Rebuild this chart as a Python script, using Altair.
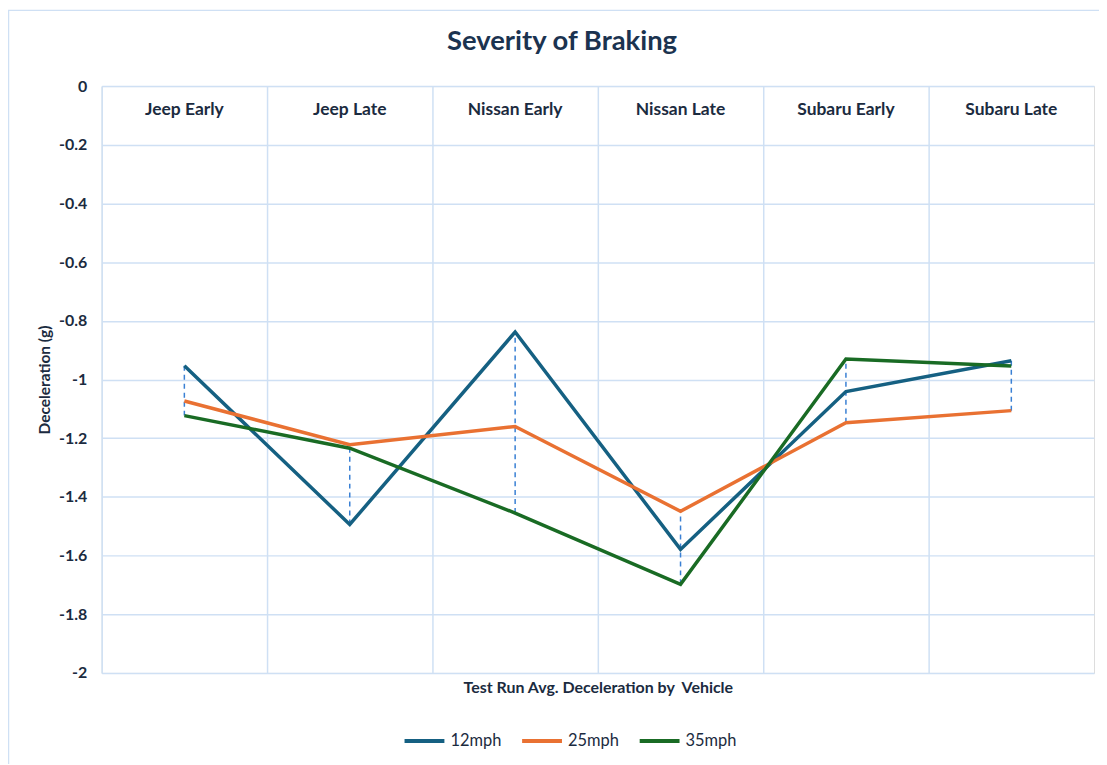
import altair as alt
import pandas as pd

categories = ["Jeep Early", "Jeep Late", "Nissan Early", "Nissan Late", "Subaru Early", "Subaru Late"]
series_names = ["12mph", "25mph", "35mph"]
v12 = [-0.953, -1.494, -0.838, -1.579, -1.041, -0.936]
v25 = [-1.073, -1.222, -1.160, -1.449, -1.147, -1.106]
v35 = [-1.123, -1.234, -1.455, -1.698, -0.930, -0.954]
colors = ["#156082", "#E97132", "#196B24"]
y_ticks = [0, -0.2, -0.4, -0.6, -0.8, -1, -1.2, -1.4, -1.6, -1.8, -2]

rows = []
for name, vals in zip(series_names, [v12, v25, v35]):
    for c, v in zip(categories, vals):
        rows.append({"Vehicle": c, "Series": name, "Value": v})
df = pd.DataFrame(rows)

FONT = "Lato"
TXT = "#1B2B40"
GRID = "#CFE0F4"

x_top = alt.X(
    "Vehicle:N",
    sort=categories,
    scale=alt.Scale(type="band", domain=categories, paddingInner=0, paddingOuter=0),
    axis=alt.Axis(
        orient="top", title=None, labelAngle=0, ticks=False, tickSize=0, domain=False,
        grid=True, gridColor=GRID, gridWidth=1.5, bandPosition=0,
        labelPadding=-24, labelBaseline="middle", labelFont=FONT, labelFontSize=17.5,
        labelFontWeight="bold", labelColor=TXT,
    ),
)
x_bottom = alt.X(
    "Vehicle:N",
    sort=categories,
    scale=alt.Scale(type="band", domain=categories, paddingInner=0, paddingOuter=0),
    axis=alt.Axis(
        orient="bottom", title="Test Run Avg. Deceleration by\u00a0 Vehicle", labels=False,
        ticks=False, domain=False, grid=False, titleFont=FONT, titleFontSize=16,
        titleFontWeight="bold", titleColor=TXT, titleX=498, titleY=15,
        titleBaseline="middle",
    ),
)
y_enc = alt.Y(
    "Value:Q",
    scale=alt.Scale(domain=[-2, 0], nice=False),
    axis=alt.Axis(
        title="Deceleration (g)", values=y_ticks, labelExpr="'' + datum.value",
        ticks=False, domain=False,
        grid=True, gridColor=GRID, gridWidth=1.5, labelPadding=15, labelFont=FONT,
        labelFontSize=16, labelFontWeight="bold", labelColor=TXT,
        titleFont=FONT, titleFontSize=15.5, titleFontWeight="bold", titleColor=TXT,
        titleX=-57, titleY=294.5, titleAngle=-90, titleAlign="center", titleBaseline="middle",
    ),
)

border = alt.Chart(pd.DataFrame({"a": [0]})).mark_rect(
    fill=None, stroke=GRID, strokeWidth=1.5
).encode(
    x=alt.value(-93.5), x2=alt.value(1030), y=alt.value(-76), y2=alt.value(720)
)

drops = alt.Chart(df).transform_aggregate(
    lo="min(Value)", hi="max(Value)", groupby=["Vehicle"]
).mark_rule(color="#3A80D4", strokeWidth=1.5, strokeDash=[5, 4]).encode(
    x=x_bottom, y=alt.Y("lo:Q", scale=alt.Scale(domain=[-2, 0], nice=False)), y2="hi:Q"
)

lines = alt.Chart(df).mark_line(strokeWidth=3.5, strokeJoin="miter").encode(
    x=x_top,
    y=y_enc,
    color=alt.Color(
        "Series:N",
        scale=alt.Scale(domain=series_names, range=colors),
        legend=alt.Legend(
            title=None, orient="none", direction="horizontal", legendX=302, legendY=635,
            symbolType="stroke", symbolSize=1600, symbolStrokeWidth=4, labelFont=FONT,
            labelFontSize=16.5, labelColor=TXT, labelOffset=4, columnPadding=12,
        ),
    ),
)

chart = alt.layer(border, drops, lines).properties(
    width=996,
    height=589,
    autosize=alt.AutoSizeParams(type="none"),
    padding={"left": 94, "top": 77, "right": 5, "bottom": 90},
    title=alt.TitleParams(
        "Severity of Braking", font=FONT, fontSize=27.5, fontWeight="bold", color="#1B3350",
        anchor="middle", frame="group", dx=-36, offset=-60, baseline="middle",
    ),
).configure_view(stroke=GRID, strokeWidth=1.5).configure(background="white")

chart.save("out.html", embed_options={"renderer": "svg", "actions": False})
